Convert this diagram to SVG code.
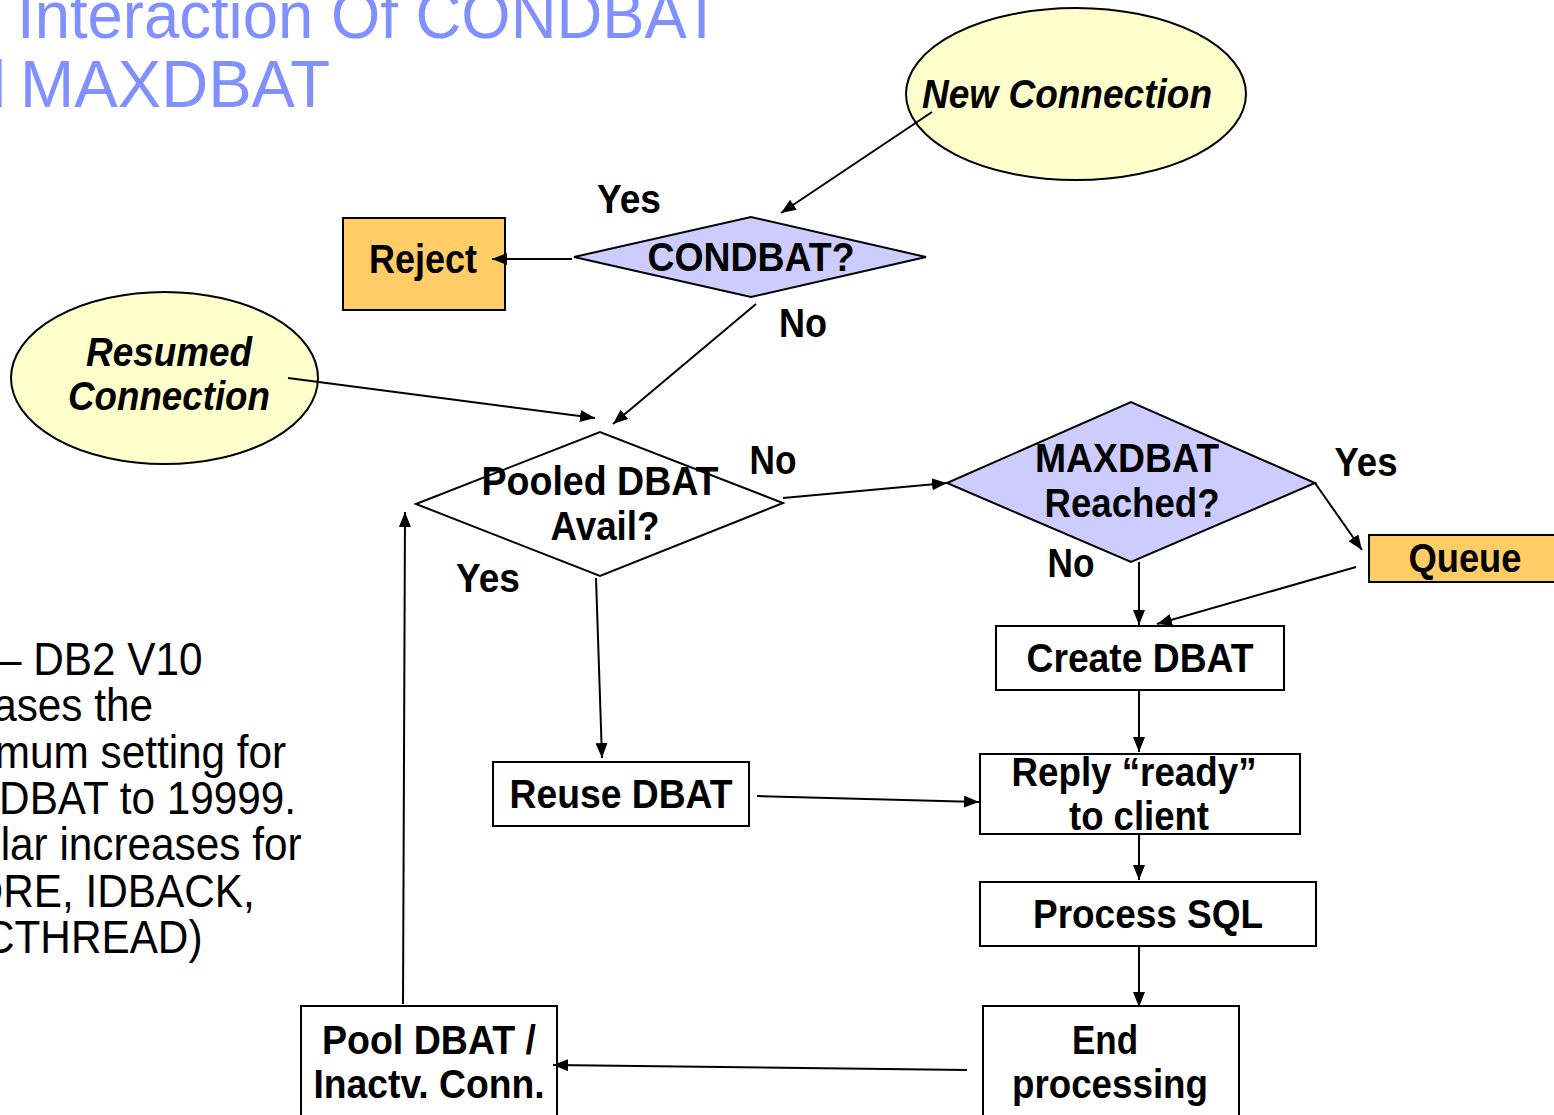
<svg xmlns="http://www.w3.org/2000/svg" width="1554" height="1115" viewBox="0 0 1554 1115">
  <defs>
    <marker id="ah" viewBox="0 0 15 12" refX="15" refY="6" markerWidth="15" markerHeight="12" orient="auto" markerUnits="userSpaceOnUse">
      <path d="M0,0 L15,6 L0,12 z" fill="#000"/>
    </marker>
    <style>
      .title { font-family: "Liberation Sans", Arial, sans-serif; font-size: 66px; fill: #8090ff; }
      .note { font-family: "Liberation Sans", Arial, sans-serif; font-size: 47px; fill: #000; }
      .lbl { font-family: "Liberation Sans", Arial, sans-serif; font-size: 40px; font-weight: bold; fill: #000; text-anchor: middle; }
      .it { font-style: italic; }
      .shape { stroke: #000; stroke-width: 2; }
      .box { fill: #fff; stroke: #000; stroke-width: 2; }
      .term { fill: #ffffcc; }
      .dec { fill: #ccccff; }
      .hold { fill: #ffcc66; }
      .conn line { stroke: #000; stroke-width: 2; fill: none; }
      .arr { marker-end: url(#ah); }
    </style>
  </defs>

  <rect width="1554" height="1115" fill="#fff"/>

  <!-- Title -->
  <g id="title">
    <text class="title" x="17" y="38" textLength="704" lengthAdjust="spacingAndGlyphs">Interaction Of CONDBAT</text>
    <text class="title" x="6" y="107" text-anchor="end">and</text>
    <text class="title" x="20" y="107" textLength="310" lengthAdjust="spacingAndGlyphs">MAXDBAT</text>
  </g>

  <!-- Side note -->
  <g id="note" transform="scale(0.9 1)">
    <text class="note" text-anchor="end" x="225" y="675">– DB2 V10</text>
    <text class="note" text-anchor="end" x="170" y="721">ases the</text>
    <text class="note" text-anchor="end" x="318" y="768">mum setting for</text>
    <text class="note" text-anchor="end" x="329" y="814">DBAT to 19999.</text>
    <text class="note" text-anchor="end" x="335" y="860">lar increases for</text>
    <text class="note" text-anchor="end" x="283" y="907">ORE, IDBACK,</text>
    <text class="note" text-anchor="end" x="225" y="953">CTHREAD)</text>
  </g>

  <!-- Branch labels -->
  <g id="branch-labels">
    <text class="lbl" x="629" y="213" textLength="64" lengthAdjust="spacingAndGlyphs">Yes</text>
    <text class="lbl" x="803" y="337" textLength="48" lengthAdjust="spacingAndGlyphs">No</text>
    <text class="lbl" x="773" y="474" textLength="47" lengthAdjust="spacingAndGlyphs">No</text>
    <text class="lbl" x="488" y="592" textLength="64" lengthAdjust="spacingAndGlyphs">Yes</text>
    <text class="lbl" x="1366" y="476" textLength="63" lengthAdjust="spacingAndGlyphs">Yes</text>
    <text class="lbl" x="1071" y="577" textLength="47" lengthAdjust="spacingAndGlyphs">No</text>
  </g>

  <!-- Nodes -->
  <g id="new-connection">
    <ellipse class="shape term" cx="1076" cy="94" rx="170" ry="86"/>
    <text class="lbl it" x="1067" y="108" textLength="290" lengthAdjust="spacingAndGlyphs">New Connection</text>
  </g>

  <g id="condbat">
    <polygon class="shape dec" points="574,257 751,217 926,257 751,297"/>
    <text class="lbl" x="751" y="271" textLength="207" lengthAdjust="spacingAndGlyphs">CONDBAT?</text>
  </g>

  <g id="reject">
    <rect class="shape hold" x="343" y="218" width="162" height="92"/>
    <text class="lbl" x="423" y="273" textLength="108" lengthAdjust="spacingAndGlyphs">Reject</text>
  </g>

  <g id="resumed-connection">
    <ellipse class="shape term" cx="164.5" cy="378" rx="153.5" ry="86"/>
    <text class="lbl it" x="169" y="366" textLength="166" lengthAdjust="spacingAndGlyphs">Resumed</text>
    <text class="lbl it" x="169" y="410" textLength="202" lengthAdjust="spacingAndGlyphs">Connection</text>
  </g>

  <g id="pooled-dbat">
    <polygon class="box" points="416,504 600,432 783,503 600,576"/>
    <text class="lbl" x="600" y="495" textLength="237" lengthAdjust="spacingAndGlyphs">Pooled DBAT</text>
    <text class="lbl" x="605" y="540" textLength="109" lengthAdjust="spacingAndGlyphs">Avail?</text>
  </g>

  <g id="maxdbat">
    <polygon class="shape dec" points="947,483 1131,402 1315,483 1131,562"/>
    <text class="lbl" x="1127" y="472" textLength="184" lengthAdjust="spacingAndGlyphs">MAXDBAT</text>
    <text class="lbl" x="1132" y="517" textLength="175" lengthAdjust="spacingAndGlyphs">Reached?</text>
  </g>

  <g id="queue">
    <rect class="shape hold" x="1369" y="535" width="200" height="47"/>
    <text class="lbl" x="1465" y="572" textLength="113" lengthAdjust="spacingAndGlyphs">Queue</text>
  </g>

  <g id="create-dbat">
    <rect class="box" x="996" y="626" width="288" height="64"/>
    <text class="lbl" x="1140" y="672" textLength="227" lengthAdjust="spacingAndGlyphs">Create DBAT</text>
  </g>

  <g id="reply-ready">
    <rect class="box" x="980" y="754" width="320" height="80"/>
    <text class="lbl" x="1134" y="786" textLength="245" lengthAdjust="spacingAndGlyphs">Reply “ready”</text>
    <text class="lbl" x="1139" y="830" textLength="140" lengthAdjust="spacingAndGlyphs">to client</text>
  </g>

  <g id="process-sql">
    <rect class="box" x="980" y="882" width="336" height="64"/>
    <text class="lbl" x="1148" y="928" textLength="230" lengthAdjust="spacingAndGlyphs">Process SQL</text>
  </g>

  <g id="end-processing">
    <rect class="box" x="983" y="1006" width="256" height="120"/>
    <text class="lbl" x="1105" y="1054" textLength="66" lengthAdjust="spacingAndGlyphs">End</text>
    <text class="lbl" x="1110" y="1098" textLength="196" lengthAdjust="spacingAndGlyphs">processing</text>
  </g>

  <g id="pool-dbat">
    <rect class="box" x="301" y="1006" width="256" height="120"/>
    <text class="lbl" x="429" y="1054" textLength="214" lengthAdjust="spacingAndGlyphs">Pool DBAT /</text>
    <text class="lbl" x="429" y="1098" textLength="231" lengthAdjust="spacingAndGlyphs">Inactv. Conn.</text>
  </g>

  <g id="reuse-dbat">
    <rect class="box" x="493" y="762" width="256" height="64"/>
    <text class="lbl" x="621" y="808" textLength="223" lengthAdjust="spacingAndGlyphs">Reuse DBAT</text>
  </g>

  <!-- Connectors, drawn over the shapes -->
  <g id="connectors" class="conn">
    <line class="arr" x1="932" y1="112" x2="781" y2="213"/>
    <line class="arr" x1="572" y1="259" x2="492" y2="259"/>
    <line class="arr" x1="756" y1="304" x2="613" y2="424"/>
    <line class="arr" x1="288" y1="378" x2="595" y2="418"/>
    <line class="arr" x1="783" y1="498" x2="947" y2="483"/>
    <line class="arr" x1="1315" y1="483" x2="1362" y2="550"/>
    <line class="arr" x1="1356" y1="567" x2="1157" y2="624"/>
    <line class="arr" x1="1139" y1="562" x2="1139" y2="625"/>
    <line class="arr" x1="1139" y1="690" x2="1139" y2="752"/>
    <line class="arr" x1="1139" y1="834" x2="1139" y2="880"/>
    <line class="arr" x1="1139" y1="946" x2="1139" y2="1007"/>
    <line class="arr" x1="967" y1="1070" x2="553" y2="1065"/>
    <line class="arr" x1="403" y1="1004" x2="405" y2="512"/>
    <line class="arr" x1="596" y1="578" x2="602" y2="758"/>
    <line class="arr" x1="757" y1="796" x2="979" y2="802"/>
  </g>
</svg>
